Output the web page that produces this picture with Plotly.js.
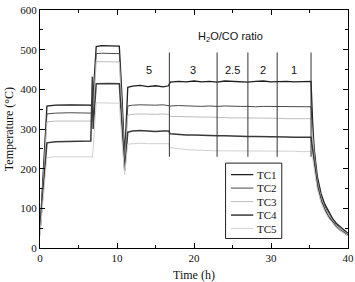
<!DOCTYPE html>
<html>
<head>
<meta charset="utf-8">
<script src="https://cdn.plot.ly/plotly-3.0.1.min.js"></script>
<style>
  html, body { margin: 0; padding: 0; background: #fff; }
  #chart { width: 355px; height: 282px; }
</style>
</head>
<body>
<div id="chart"></div>
<script>
// Time on stream (h), shared by all thermocouple series
const hours = [0, 0.9, 2, 4, 6.6, 6.8, 6.9, 7.3, 8, 9, 10.3, 10.6, 11.0, 11.4,
  12, 13, 14, 15, 16, 16.7, 16.9, 18, 19, 20, 21, 22, 23, 24, 25, 26, 27, 28,
  29, 30, 31, 32, 33, 34, 35.2, 35.4, 35.6, 36, 36.5, 37, 37.5, 38, 38.5, 39, 39.5, 40];

// Bed temperatures (°C) for thermocouples TC1..TC5
const tc1 = [40, 358, 360, 361, 360, 356, 380, 508, 510, 510, 509, 400, 228, 405,
  408, 410, 407, 409, 406, 409, 418, 420, 419, 421, 419, 420, 418, 421, 420, 419, 418, 420,
  421, 419, 420, 420, 419, 420, 420, 320, 252, 182, 137, 110, 90, 74, 62, 53, 45, 37];
const tc2 = [35, 338, 340, 341, 340, 338, 360, 490, 491, 490, 490, 380, 220, 358,
  360, 361, 360, 360, 361, 360, 358, 359, 358, 358, 357, 358, 357, 358, 357, 357, 357, 356,
  357, 357, 356, 357, 357, 356, 356, 298, 244, 175, 130, 105, 86, 71, 59, 50, 42, 35];
const tc3 = [30, 318, 320, 320, 320, 318, 340, 470, 470, 470, 469, 360, 205, 335,
  337, 338, 337, 337, 338, 337, 332, 331, 331, 330, 330, 330, 329, 329, 328, 328, 328, 327,
  327, 327, 327, 326, 326, 326, 326, 280, 235, 168, 126, 100, 82, 68, 56, 48, 41, 34];
const tc4 = [45, 265, 268, 269, 270, 432, 300, 414, 415, 415, 414, 320, 195, 292,
  295, 296, 295, 294, 295, 295, 288, 286, 285, 285, 284, 284, 283, 283, 282, 282, 281, 281,
  281, 280, 280, 280, 279, 279, 279, 250, 215, 160, 120, 96, 78, 64, 53, 45, 38, 32];
const tc5 = [35, 228, 230, 230, 230, 228, 250, 366, 366, 366, 365, 280, 185, 262,
  263, 264, 263, 263, 264, 263, 253, 250, 248, 247, 246, 246, 245, 245, 245, 245, 245, 244,
  244, 244, 244, 244, 244, 243, 243, 225, 200, 150, 115, 92, 75, 62, 52, 44, 37, 31];

const seriesNames = ['TC1', 'TC2', 'TC3', 'TC4', 'TC5'];
const seriesValues = [tc1, tc2, tc3, tc4, tc5];

// H2O/CO ratio periods: boundaries (h) and the ratio in each period
const ratioBounds = [11.4, 16.8, 23, 27, 30.8, 35.2];
const ratioLabels = ['5', '3', '2.5', '2', '1'];

const lineColors = ['#1e1e1e', '#4a4a4a', '#bdbdbd', '#3a3a3a', '#d2d2d2'];
const lineWidths = [1.3, 1, 1, 1.5, 1];

const serif = "'Liberation Serif', 'Times New Roman', serif";
const sans = "'Liberation Sans', Arial, sans-serif";

const traces = seriesValues.map((vals, i) => ({
  x: hours,
  y: vals,
  type: 'scatter',
  mode: 'lines',
  name: seriesNames[i],
  showlegend: false,
  line: { color: lineColors[i], width: lineWidths[i] }
}));

const shapes = [];
const annotations = [];

// separators between ratio periods
ratioBounds.slice(1).forEach(b => {
  shapes.push({ type: 'line', xref: 'x', yref: 'y', x0: b, x1: b, y0: 230, y1: 493,
    line: { color: '#333', width: 1 } });
});
// ratio value for each period
ratioLabels.forEach((lab, i) => {
  annotations.push({ xref: 'x', yref: 'y', x: (ratioBounds[i] + ratioBounds[i + 1]) / 2, y: 450,
    text: lab, showarrow: false, font: { family: sans, size: 11, color: '#111' } });
});
annotations.push({ xref: 'x', yref: 'y', x: 24.7, y: 533, text: 'H<sub>2</sub>O/CO ratio',
  showarrow: false, font: { family: sans, size: 11, color: '#111' } });

// x-axis caption, set low against the bottom edge
annotations.push({ xref: 'paper', yref: 'paper', x: 0.5, y: -0.115, yanchor: 'middle',
  text: 'Time (h)', showarrow: false, font: { family: serif, size: 12, color: '#111' } });

// key box inside the plot area
const legX0 = 24.1, legX1 = 31.4, legTop = 214, rowStep = 34;
shapes.push({ type: 'rect', xref: 'x', yref: 'y', x0: legX0, x1: legX1, y0: legTop - 5 * rowStep - 20, y1: legTop,
  line: { color: '#222', width: 1 }, fillcolor: '#fff', layer: 'above' });
seriesNames.forEach((nm, i) => {
  const yy = legTop - 29 - i * rowStep;
  shapes.push({ type: 'line', xref: 'x', yref: 'y', x0: 24.8, x1: 27.7, y0: yy, y1: yy,
    line: { color: lineColors[i], width: lineWidths[i] }, layer: 'above' });
  annotations.push({ xref: 'x', yref: 'y', x: 27.9, y: yy, xanchor: 'left', text: nm,
    showarrow: false, font: { family: serif, size: 11, color: '#111' } });
});

const axisCommon = {
  showline: true, linecolor: '#000', linewidth: 1, mirror: 'ticks',
  ticks: 'inside', ticklen: 5, tickwidth: 1, tickcolor: '#000',
  showgrid: false, zeroline: false,
  tickfont: { family: serif, size: 11, color: '#111' }
};

const layout = {
  width: 355, height: 282,
  margin: { l: 40, r: 7, t: 10, b: 34, pad: 0 },
  paper_bgcolor: '#fff', plot_bgcolor: '#fff',
  showlegend: false,
  xaxis: Object.assign({}, axisCommon, {
    range: [0, 40], dtick: 10, tick0: 0,
    minor: { dtick: 5, ticks: 'inside', ticklen: 3, tickcolor: '#000' }
  }),
  yaxis: Object.assign({}, axisCommon, {
    range: [0, 600], dtick: 100, tick0: 0,
    minor: { dtick: 50, ticks: 'inside', ticklen: 3, tickcolor: '#000' },
    title: { text: 'Temperature (°C)', font: { family: serif, size: 12, color: '#111' }, standoff: 4 }
  }),
  shapes: shapes,
  annotations: annotations
};

Plotly.newPlot('chart', traces, layout, { staticPlot: true, displayModeBar: false });
</script>
</body>
</html>
